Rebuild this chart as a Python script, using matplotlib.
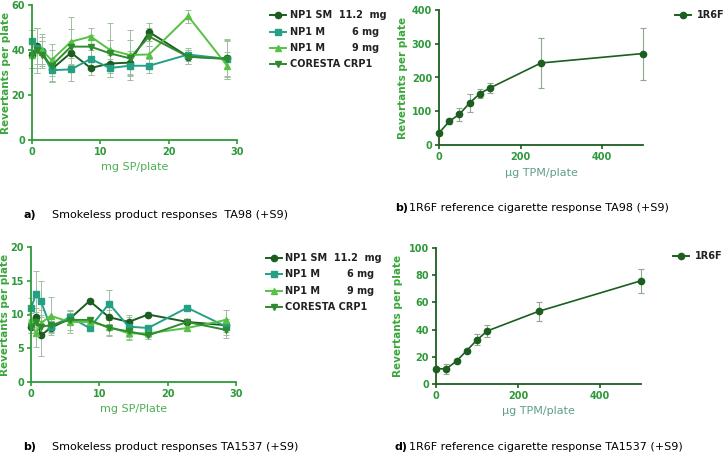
import numpy as np
import matplotlib.pyplot as plt
from matplotlib.lines import Line2D

# dosis de producto sin humo (mg SP/plate)
dosis_sp = [0, 0.71, 1.43, 2.86, 5.71, 8.57, 11.43, 14.29, 17.14, 22.86, 28.57]
series = ["NP1 SM  11.2  mg", "NP1 M        6 mg", "NP1 M        9 mg", "CORESTA CRP1"]

# TA98 (+S9)
ta98_sm = [38, 41.8, 39.6, 31.4, 38.8, 32, 34, 34.4, 48, 37, 36.3]
ta98_m6 = [44, 41, 39, 31, 31.4, 36, 32, 33, 33, 38, 36]
ta98_m9 = [38, 40, 40, 35.5, 43.7, 46, 40, 37.8, 38, 55, 33]
ta98_crp = [38, 40, 38, 33, 41.5, 41.5, 38.5, 36.3, 46, 37, 36]
ta98_err_sm = [6, 8, 6, 5, 5, 3, 4, 5, 4, 3, 8]
ta98_err_m6 = [5, 9, 5, 5, 5, 4, 4, 4, 3, 3, 8]
ta98_err_m9 = [6, 10, 7, 7, 11, 4, 12, 11, 4, 3, 6]
ta98_err_crp = [6, 10, 6, 7, 8, 5, 6, 8, 4, 3, 9]

# TA1537 (+S9)
ta1537_sm = [8.2, 9.7, 6.9, 8, 9.4, 12, 9.6, 8.9, 10, 8.9, 8.4]
ta1537_m6 = [10.9, 13, 12, 8.2, 9.6, 8, 11.6, 8.2, 8, 11, 8.2]
ta1537_m9 = [9.2, 7.2, 8.7, 9.8, 8.9, 8.9, 8.2, 7.2, 7.2, 8, 9.2]
ta1537_crp = [8.2, 8.9, 8.2, 8.4, 9.2, 9.2, 8, 7.5, 6.9, 8.9, 7.7]
ta1537_err_sm = [1, 1.2, 3, 0.8, 0.8, 0.3, 1, 1, 0.3, 0.3, 1]
ta1537_err_m6 = [1.5, 3.4, 3, 0.8, 1, 0.4, 2, 1.5, 0.5, 0.3, 1.2]
ta1537_err_m9 = [1, 2, 2, 2.8, 1.6, 0.5, 1.3, 1, 0.5, 0.3, 1.5]
ta1537_err_crp = [1, 1.5, 1.5, 1, 1.5, 0.5, 1.2, 1.2, 0.5, 0.3, 1.2]

# 1R6F cigarrillo de referencia (ug TPM/plate)
dosis_tpm = [0, 25, 50, 75, 100, 125, 250, 500]
r6f_ta98 = [35.6, 70, 91, 124.5, 152, 169, 243, 271]
r6f_ta98_err = [5, 7, 19, 26, 13, 15, 75, 77]
r6f_ta1537 = [11.2, 11.2, 16.8, 24.6, 32.4, 39, 53.4, 75.9]
r6f_ta1537_err = [1, 3.5, 1.5, 1.5, 4, 4.6, 7, 9]

colores = ["#1b5e20", "#26a085", "#56c243", "#2e8b2e"]
marcadores = ["o", "s", "^", "v"]
eje_verde = "#2e9a3a"
err_color = "#9fbf9f"

W, H = 727, 455
fig = plt.figure(figsize=(7.27, 4.55), dpi=100)

def caja(l, t, r, b):
    return [l / W, 1 - b / H, (r - l) / W, (b - t) / H]

def estilo(ax, color_eje, xlabel, xlab_color, ylab_x):
    for s in ["top", "right"]:
        ax.spines[s].set_visible(False)
    for s in ["left", "bottom"]:
        ax.spines[s].set_color(color_eje)
        ax.spines[s].set_linewidth(1.3)
    ax.tick_params(colors=color_eje, labelcolor="#2e9a3a", width=1.2, length=3, labelsize=7, pad=2)
    for lab in ax.get_xticklabels() + ax.get_yticklabels():
        lab.set_fontweight("bold")
    ax.set_ylabel("Revertants per plate", color="#3aa63a", fontsize=7.5, fontweight="bold")
    ax.yaxis.set_label_coords(ylab_x, 0.5)
    ax.set_xlabel(xlabel, color=xlab_color, fontsize=8, labelpad=4)

def panel_sp(caja_ax, datos, errores, ylim, yticks, xlabel):
    ax = fig.add_axes(caja_ax)
    for y, e, c, m in zip(datos, errores, colores, marcadores):
        ax.errorbar(dosis_sp, y, yerr=e, color=c, marker=m, markersize=4.5, lw=1.4,
                    ecolor=err_color, elinewidth=0.7, capsize=2, capthick=0.7, clip_on=False)
    ax.set_xlim(0, 30)
    ax.set_ylim(*ylim)
    ax.set_xticks([0, 10, 20, 30])
    ax.set_yticks(yticks)
    estilo(ax, eje_verde, xlabel, "#4caf50", -0.1)
    return ax

def panel_tpm(caja_ax, y, e, ylim, yticks, ylab_x):
    ax = fig.add_axes(caja_ax)
    ax.errorbar(dosis_tpm, y, yerr=e, color="#1b5e20", marker="o", markersize=4.5, lw=1.2,
                ecolor="#8fa88f", elinewidth=0.8, capsize=2.5, capthick=0.8, clip_on=False)
    ax.set_xlim(0, 500)
    ax.set_ylim(*ylim)
    ax.set_xticks([0, 200, 400])
    ax.set_yticks(yticks)
    estilo(ax, "#1b5e20", "µg TPM/plate", "#5e9e8e", ylab_x)
    return ax

panel_sp(caja(32, 5, 237, 140), [ta98_sm, ta98_m6, ta98_m9, ta98_crp],
         [ta98_err_sm, ta98_err_m6, ta98_err_m9, ta98_err_crp], (0, 60), [0, 20, 40, 60], "mg SP/plate")
panel_sp(caja(31, 247, 236, 382), [ta1537_sm, ta1537_m6, ta1537_m9, ta1537_crp],
         [ta1537_err_sm, ta1537_err_m6, ta1537_err_m9, ta1537_err_crp], (0, 20), [0, 5, 10, 15, 20], "mg SP/Plate")
panel_tpm(caja(439, 10, 643, 145), r6f_ta98, r6f_ta98_err, (0, 400), [0, 100, 200, 300, 400], -0.15)
panel_tpm(caja(436, 248, 641, 384), r6f_ta1537, r6f_ta1537_err, (0, 100), [0, 20, 40, 60, 80, 100], -0.16)

# leyendas manuales
def leyenda(x_marca, x_texto, ys, etiquetas, cols, marks):
    for y, t, c, m in zip(ys, etiquetas, cols, marks):
        fig.add_artist(Line2D([(x_marca - 8) / W, (x_marca + 8) / W], [1 - y / H] * 2,
                              color=c, lw=1.4, transform=fig.transFigure))
        fig.add_artist(Line2D([x_marca / W], [1 - y / H], color=c, marker=m, markersize=4.5,
                              transform=fig.transFigure))
        fig.text(x_texto / W, 1 - y / H, t, fontsize=7, fontweight="bold", color="#222222", va="center")

leyenda(278, 290, [15, 32, 48, 64], series, colores, marcadores)
leyenda(274, 285, [258, 274, 291, 307], series, colores, marcadores)
leyenda(683, 697, [15], ["1R6F"], ["#1b5e20"], ["o"])
leyenda(681, 695, [256], ["1R6F"], ["#1b5e20"], ["o"])

# titulos de los paneles
def pie(x, y, letra, texto, x2):
    fig.text(x / W, 1 - y / H, letra, fontsize=8, fontweight="bold", va="center")
    fig.text(x2 / W, 1 - y / H, texto, fontsize=8, va="center")

pie(23, 215, "a)", "Smokeless product responses  TA98 (+S9)", 52)
pie(395, 208, "b)", "1R6F reference cigarette response TA98 (+S9)", 409)
pie(23, 447, "b)", "Smokeless product responses TA1537 (+S9)", 52)
pie(395, 447, "d)", "1R6F reference cigarette response TA1537 (+S9)", 409)

fig.savefig("out.png", dpi=100)
